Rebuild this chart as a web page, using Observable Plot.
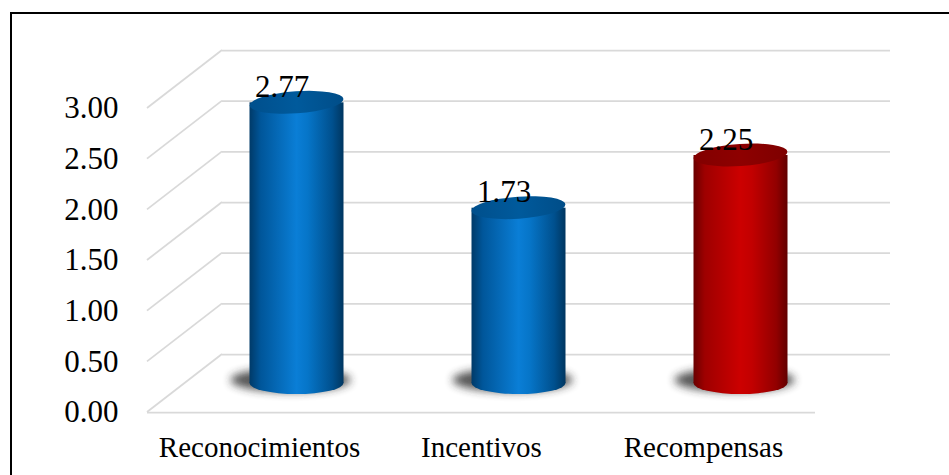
<!DOCTYPE html>
<html>
<head>
<meta charset="utf-8">
<script src="https://cdn.jsdelivr.net/npm/d3@7"></script>
<script src="https://cdn.jsdelivr.net/npm/@observablehq/plot@0.6"></script>
<style>
  html, body { margin: 0; padding: 0; background: #fff; overflow: hidden; width: 949px; height: 475px; }
  #wrap { position: relative; width: 949px; height: 475px; }
  #frame { position: absolute; left: 10px; top: 12px; width: 1000px; height: 1000px; border: 2px solid #000; box-sizing: border-box; pointer-events: none; }
</style>
</head>
<body>
<div id="wrap"><div id="chart"></div><div id="frame"></div></div>
<script>
// ---- data ----
const categories = ["Reconocimientos", "Incentivos", "Recompensas"];
const values = [2.77, 1.73, 2.25];
const colorKeys = ["blue", "blue", "red"];
const yTicks = [0, 0.5, 1, 1.5, 2, 2.5, 3];

const data = categories.map((c, i) => ({cat: c, value: values[i], color: colorKeys[i]}));

// perspective depth (pixels) of the back wall
const DX = 75, DY = -58;
const HALF_W = 47, RY = 11;
const FONT = "Liberation Serif, Times New Roman, serif";

const grid = "#d9d9d9";

function leftWall(index, scales) {
  const {x, y} = scales;
  const g = d3.create("svg:g").attr("stroke", grid).attr("stroke-width", 1.75).attr("fill", "none");
  const x0 = x.range ? Math.min(...x.range()) : 147;
  for (const t of yTicks) {
    g.append("line")
      .attr("x1", x0).attr("y1", y(t))
      .attr("x2", x0 + DX).attr("y2", y(t) + DY);
  }
  return g.node();
}

function cylinders(index, scales) {
  const {x, y} = scales;
  const bw = x.bandwidth ? x.bandwidth() : 0;
  const g = d3.create("svg:g");
  for (const d of data) {
    const cx = x(d.cat) + bw / 2 + DX / 2;
    const y0 = y(0) + DY / 2;
    const yt = y(d.value) + DY / 2;
    // shadow
    g.append("ellipse")
      .attr("cx", cx - 6).attr("cy", y0 - 3)
      .attr("rx", HALF_W + 13).attr("ry", RY + 1)
      .attr("fill", "#2a2a2a").attr("opacity", 0.8)
      .attr("filter", "url(#blurShadow)");
    // body
    g.append("rect")
      .attr("x", cx - HALF_W).attr("y", yt)
      .attr("width", 2 * HALF_W).attr("height", y0 - yt)
      .attr("fill", `url(#body-${d.color})`);
    g.append("ellipse")
      .attr("cx", cx).attr("cy", y0)
      .attr("rx", HALF_W).attr("ry", RY)
      .attr("fill", `url(#body-${d.color})`);
    // top face
    g.append("ellipse")
      .attr("cx", cx).attr("cy", yt)
      .attr("rx", HALF_W).attr("ry", RY)
      .attr("transform", `rotate(-4 ${cx} ${yt})`)
      .attr("fill", `url(#top-${d.color})`);
  }
  return g.node();
}

const plot = Plot.plot({
  width: 949,
  height: 475,
  marginLeft: 147,
  marginRight: 134,
  marginTop: 108,
  marginBottom: 63,
  style: {fontFamily: FONT, background: "transparent", color: "#000"},
  x: {type: "band", domain: categories, padding: 0},
  y: {domain: [0, 3]},
  marks: [
    // back wall horizontal gridlines
    Plot.ruleY(yTicks, {dx: DX, dy: DY, stroke: grid, strokeWidth: 1.75}),
    // left wall diagonals
    leftWall,
    // front floor edge
    Plot.ruleY([0], {stroke: grid, strokeWidth: 1.75}),
    cylinders,
    Plot.axisY(yTicks, {tickSize: 0, tickPadding: 29, tickFormat: d3.format(".2f"), fontSize: 31, fill: "#000", label: null}),
    Plot.axisX({tickSize: 0, tickPadding: 24, fontSize: 29, fill: "#000", label: null}),
    Plot.text(data, {x: "cat", y: "value", text: d => d3.format(".2f")(d.value),
      dx: DX / 2 - 15, dy: DY / 2 - 6, lineAnchor: "bottom", fontSize: 31, fill: "#000"})
  ]
});

// gradients & filters
const defs = d3.select(plot).insert("defs", ":first-child");
function hgrad(id, stops) {
  const lg = defs.append("linearGradient").attr("id", id).attr("x1", "0").attr("x2", "1").attr("y1", "0").attr("y2", "0");
  for (const [o, c] of stops) lg.append("stop").attr("offset", o).attr("stop-color", c);
}
hgrad("body-blue", [[0, "#003a68"], [0.12, "#00569a"], [0.5, "#0a7ed6"], [0.62, "#0675c8"], [0.88, "#00508e"], [1, "#003660"]]);
hgrad("body-red", [[0, "#6a0000"], [0.12, "#9e0000"], [0.5, "#cc0000"], [0.62, "#c20000"], [0.88, "#920000"], [1, "#620000"]]);
hgrad("top-blue", [[0, "#004f8c"], [0.5, "#005a9c"], [1, "#004d88"]]);
hgrad("top-red", [[0, "#820000"], [0.5, "#8e0000"], [1, "#7e0000"]]);
const f = defs.append("filter").attr("id", "blurShadow").attr("x", "-50%").attr("y", "-100%").attr("width", "200%").attr("height", "300%");
f.append("feGaussianBlur").attr("stdDeviation", 4.5);

document.getElementById("chart").appendChild(plot);
</script>
</body>
</html>
